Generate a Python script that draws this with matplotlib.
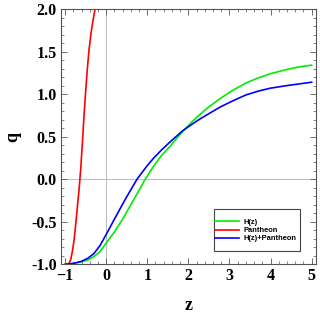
import numpy as np
import matplotlib
matplotlib.use("Agg")
import matplotlib.pyplot as plt
from matplotlib.ticker import MultipleLocator, FormatStrFormatter
from matplotlib.patches import Rectangle

# values
z_hz = [-1.0, -0.8, -0.6, -0.45, -0.3, -0.15, 0.0, 0.2, 0.4, 0.6, 0.8, 0.95, 1.15, 1.35,
        1.56, 1.85, 2.1, 2.29, 2.5, 2.78, 3.1, 3.4, 3.7, 4.0, 4.4, 4.7, 5.0]
q_hz = [-1.0, -0.99, -0.97, -0.95, -0.91, -0.85, -0.75, -0.62, -0.47, -0.30, -0.13, 0.0, 0.15, 0.28,
        0.39, 0.555, 0.68, 0.765, 0.85, 0.95, 1.05, 1.13, 1.19, 1.24, 1.29, 1.32, 1.34]

z_pan = [-0.95, -0.9, -0.86, -0.82, -0.78, -0.74, -0.70, -0.66, -0.62, -0.58, -0.54,
         -0.50, -0.46, -0.42, -0.37, -0.32, -0.27, -0.22]
q_pan = [-1.0, -0.985, -0.94, -0.84, -0.71, -0.52, -0.32, -0.12, 0.12, 0.42, 0.74,
         1.03, 1.29, 1.51, 1.71, 1.87, 2.0, 2.11]

z_both = [-1.0, -0.8, -0.6, -0.45, -0.3, -0.15, 0.0, 0.2, 0.46, 0.75, 1.0, 1.15, 1.35,
          1.56, 1.85, 2.1, 2.29, 2.5, 2.78, 3.1, 3.4, 3.7, 4.0, 4.4, 4.7, 5.0]
q_both = [-1.0, -0.99, -0.965, -0.93, -0.875, -0.78, -0.65, -0.47, -0.24, 0.0, 0.16, 0.245, 0.345,
          0.44, 0.565, 0.65, 0.71, 0.77, 0.85, 0.925, 0.99, 1.035, 1.07, 1.10, 1.12, 1.14]

labels = ["H(z)", "Pantheon", "H(z)+Pantheon"]

fig = plt.figure(figsize=(3.2, 3.13), dpi=100)
ax = fig.add_axes([0.1906, 0.1556, 0.796, 0.8156])

ax.axhline(0, color="#bbbbbb", lw=0.7, zorder=0)
ax.axvline(0, color="#bbbbbb", lw=0.7, zorder=0)

ax.plot(z_hz, q_hz, color="#00ee00", lw=1.2, label=labels[0])
ax.plot(z_pan, q_pan, color="#ff0000", lw=1.2, label=labels[1])
ax.plot(z_both, q_both, color="#0000ff", lw=1.2, label=labels[2])

ax.set_xlim(-1.1, 5.1)
ax.set_ylim(-1.0, 2.0)
ax.xaxis.set_major_locator(MultipleLocator(1))
ax.xaxis.set_minor_locator(MultipleLocator(0.2))
ax.yaxis.set_major_locator(MultipleLocator(0.5))
ax.yaxis.set_minor_locator(MultipleLocator(0.1))
ax.yaxis.set_major_formatter(FormatStrFormatter("%.1f"))

ax.tick_params(which="both", direction="in", top=True, right=True, color="#555555")
ax.tick_params(which="major", length=4, width=0.6, pad=3)
ax.tick_params(which="minor", length=2, width=0.5)
for lab in ax.get_xticklabels() + ax.get_yticklabels():
    lab.set_fontfamily("Liberation Serif")
    lab.set_fontweight("bold")
    lab.set_fontsize(11.5)
for sp in ax.spines.values():
    sp.set_color("#555555")
    sp.set_linewidth(0.8)

ax.set_xlabel("z", fontfamily="Liberation Serif", fontweight="bold", fontsize=13, labelpad=9)
ax.set_ylabel("q", fontfamily="Liberation Serif", fontweight="bold", fontsize=13, labelpad=7)

# legend box drawn separately, Mathematica style (tall padding, lines flush left)
ax.add_patch(Rectangle((0.601, 0.053), 0.337, 0.162, transform=ax.transAxes,
                       facecolor="white", edgecolor="#444444", lw=0.8, zorder=4))
leg = ax.legend(loc="center left", bbox_to_anchor=(0.603, 0.132), frameon=False,
                prop={"family": "Liberation Sans", "size": 5.4, "weight": "bold"},
                handlelength=3.2, handletextpad=0.6, labelspacing=0.12,
                borderpad=0, borderaxespad=0)
leg.set_zorder(5)

fig.savefig("out.png", dpi=100)
